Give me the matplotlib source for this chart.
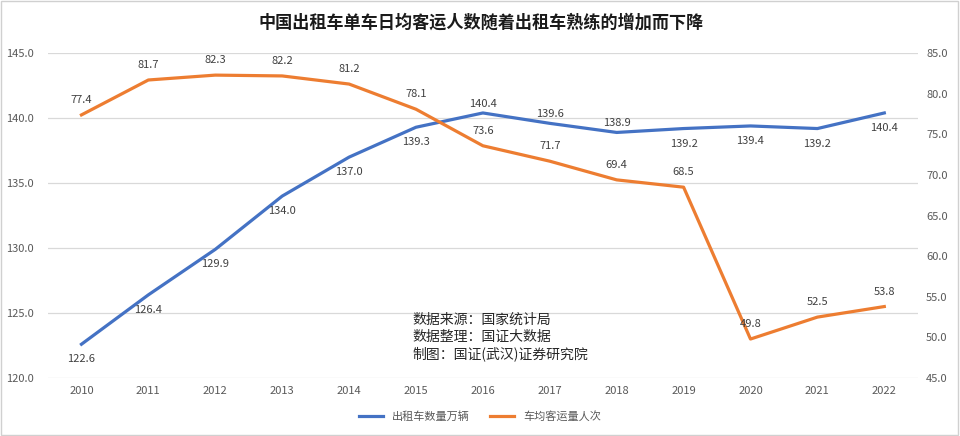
import matplotlib
matplotlib.use('Agg')
import matplotlib.pyplot as plt
from matplotlib.patches import Rectangle

plt.rcParams['font.family'] = ['Noto Sans CJK SC', 'DejaVu Sans']

# 数据
years = ['2010', '2011', '2012', '2013', '2014', '2015', '2016',
         '2017', '2018', '2019', '2020', '2021', '2022']
taxi_count = [122.6, 126.4, 129.9, 134.0, 137.0, 139.3, 140.4,
              139.6, 138.9, 139.2, 139.4, 139.2, 140.4]
passengers = [77.4, 81.7, 82.3, 82.2, 81.2, 78.1, 73.6,
              71.7, 69.4, 68.5, 49.8, 52.5, 53.8]
left_ticks = [120, 125, 130, 135, 140, 145]
right_ticks = [45, 50, 55, 60, 65, 70, 75, 80, 85]

title = '中国出租车单车日均客运人数随着出租车熟练的增加而下降'
note = '数据来源：国家统计局\n数据整理：国证大数据\n制图：国证(武汉)证券研究院'

blue = '#4472C4'
orange = '#ED7D31'
tick_color = '#595959'
label_color = '#404040'

fig = plt.figure(figsize=(9.6, 4.36), dpi=100)
ax = fig.add_axes([0.05, 0.133, 0.906, 0.745])
ax2 = ax.twinx()

x = list(range(len(years)))
l1, = ax.plot(x, taxi_count, color=blue, lw=2.3, label='出租车数量万辆')
l2, = ax2.plot(x, passengers, color=orange, lw=2.3, label='车均客运量人次')

ax.set_xlim(-0.5, len(years) - 0.5)
ax.set_ylim(120, 145)
ax2.set_ylim(45, 85)
ax.set_yticks(left_ticks)
ax.set_yticklabels([f'{t:.1f}' for t in left_ticks])
ax2.set_yticks(right_ticks)
ax2.set_yticklabels([f'{t:.1f}' for t in right_ticks])
ax.set_xticks(x)
ax.set_xticklabels(years)

ax.grid(axis='y', color='#D9D9D9', lw=0.9)
ax.set_axisbelow(True)
for a in (ax, ax2):
    for s in a.spines.values():
        s.set_visible(False)
    a.tick_params(length=0, labelsize=8, labelcolor=tick_color)
ax.tick_params(axis='y', pad=10)
ax.tick_params(axis='x', pad=6)
ax2.tick_params(axis='y', pad=6)

# 数据标签（像素偏移）
for i, v in enumerate(taxi_count):
    dy = 9 if 6 <= i <= 8 else -15
    ax.annotate(f'{v:.1f}', (i, v), xytext=(0, dy * 0.72), textcoords='offset points',
                ha='center', va='center', fontsize=8, color=label_color)
for i, v in enumerate(passengers):
    ax2.annotate(f'{v:.1f}', (i, v), xytext=(0, 15 * 0.72), textcoords='offset points',
                 ha='center', va='center', fontsize=8, color=label_color)

fig.text(0.501, 0.947, title, ha='center', va='center', fontsize=12.3,
         fontweight='bold', color='#1a1a1a')
fig.text(0.430, 0.227, note, ha='left', va='center', fontsize=10,
         color='#262626', linespacing=1.25)

fig.legend([l1, l2], [l1.get_label(), l2.get_label()], loc='center',
           bbox_to_anchor=(0.5, 0.044), ncol=2, frameon=False, fontsize=8,
           handlelength=2.2, columnspacing=1.8, labelcolor=tick_color)

fig.patches.append(Rectangle((0.001, 0.002), 0.997, 0.995, transform=fig.transFigure,
                             fill=False, edgecolor='#D0D0D0', lw=1))

fig.savefig('out.png', dpi=100)
